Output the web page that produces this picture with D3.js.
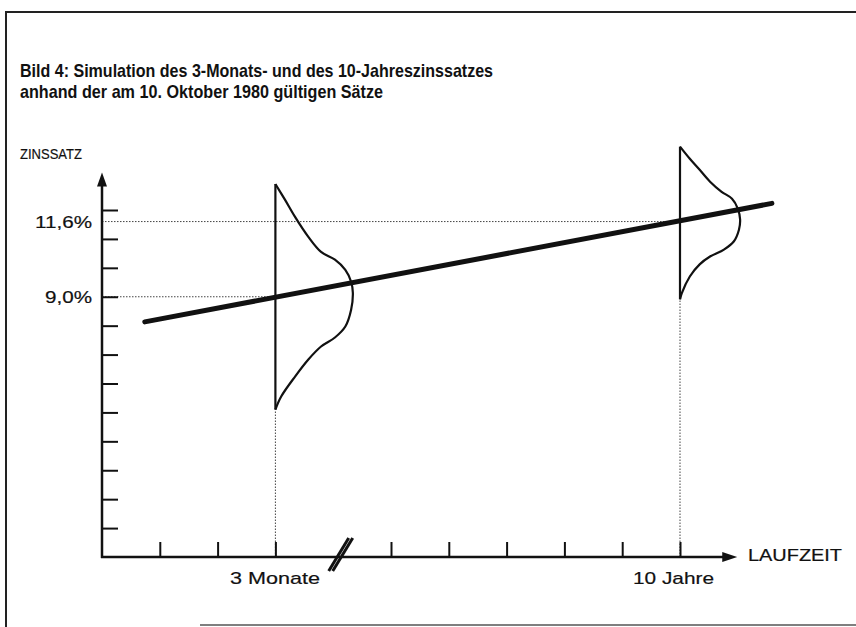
<!DOCTYPE html>
<html>
<head>
<meta charset="utf-8">
<script src="https://cdn.jsdelivr.net/npm/d3@7"></script>
<style>
  html, body { margin: 0; padding: 0; background: #fff; }
  svg { display: block; }
  text { font-family: "Liberation Sans", Arial, Helvetica, sans-serif; fill: #111; }
  .lab { stroke: #111; stroke-width: 0.2; }
</style>
</head>
<body>
<div id="chart"></div>
<script>
// --- data ---
var titleLines = ["Bild 4: Simulation des 3-Monats- und des 10-Jahreszinssatzes",
                  "anhand der am 10. Oktober 1980 gültigen Sätze"];
var yTicks = [1, 2, 3, 4, 5, 6, 7, 8, 9, 10, 11, 12];
var xTicks = [1, 2, 3, 5, 6, 7, 8, 9, 10];
var xBreak = 4.13;
var rateLabels = [{v: 11.6, t: "11,6%"}, {v: 9.0, t: "9,0%"}];
var maturities = [{v: 3, t: "3 Monate", rate: 9.0}, {v: 10, t: "10 Jahre", rate: 11.6}];
// zinskurve (laufzeit, zinssatz)
var yieldLine = [[0.74, 8.13], [11.59, 12.23]];
// verteilungen: [abweichung in %, breite in laufzeit-einheiten]
var dist3M = [[3.9, 0], [3.34, 0.17], [2.76, 0.34], [2.07, 0.57], [1.55, 0.79], [1.28, 1.03],
              [0.93, 1.21], [0.52, 1.31], [0.14, 1.34], [-0.45, 1.31], [-1.03, 1.21], [-1.41, 1.03],
              [-1.72, 0.79], [-2.17, 0.57], [-2.76, 0.34], [-3.45, 0.10], [-3.9, 0]];
var dist10J = [[2.59, 0], [2.17, 0.17], [1.79, 0.34], [1.38, 0.52], [1.03, 0.72], [0.79, 0.90],
               [0.45, 1.0], [0.07, 1.04], [-0.28, 1.02], [-0.69, 0.93], [-0.97, 0.76], [-1.21, 0.52],
               [-1.48, 0.34], [-1.90, 0.17], [-2.48, 0.03], [-2.69, 0]];

var W = 856, H = 627;
var svg = d3.select("#chart").append("svg").attr("width", W).attr("height", H);

var x = d3.scaleLinear().domain([0, 10]).range([102, 680]);
var y = d3.scaleLinear().domain([0, 12]).range([557, 210]);

// rahmen
svg.append("line").attr("x1", 5).attr("x2", W).attr("y1", 12).attr("y2", 12)
  .attr("stroke", "#222").attr("stroke-width", 2);
svg.append("line").attr("x1", 6).attr("x2", 6).attr("y1", 12).attr("y2", H)
  .attr("stroke", "#222").attr("stroke-width", 2);
svg.append("line").attr("x1", 200).attr("x2", W).attr("y1", 625).attr("y2", 625)
  .attr("stroke", "#555").attr("stroke-width", 1.5);

// titel
svg.selectAll(".title").data(titleLines).enter().append("text")
  .attr("x", 20).attr("y", (d, i) => 77 + i * 21)
  .attr("font-size", 19).attr("font-weight", "bold")
  .attr("textLength", (d, i) => i == 0 ? 473 : 363)
  .attr("lengthAdjust", "spacingAndGlyphs")
  .text(d => d);

// hilfslinien gepunktet
var dot = "1.5,1.5";
maturities.forEach(function(m) {
  svg.append("line").attr("x1", x(0)).attr("x2", x(m.v)).attr("y1", y(m.rate)).attr("y2", y(m.rate))
    .attr("stroke", "#444").attr("stroke-width", 1).attr("stroke-dasharray", dot);
});
var dists = [dist3M, dist10J];
maturities.forEach(function(m, i) {
  var lo = d3.min(dists[i], d => d[0]);
  svg.append("line").attr("x1", x(m.v)).attr("x2", x(m.v)).attr("y1", y(0)).attr("y2", y(m.rate + lo))
    .attr("stroke", "#444").attr("stroke-width", 1).attr("stroke-dasharray", dot);
});

// y-achse
var yAxis = d3.axisLeft(y).tickValues(yTicks).tickSize(-16).tickFormat("");
var gy = svg.append("g").attr("transform", "translate(" + x(0) + ",0)").call(yAxis);
gy.select(".domain").remove();
gy.selectAll(".tick line").attr("stroke", "#111").attr("stroke-width", 2);

// x-achse
var xAxis = d3.axisBottom(x).tickValues(xTicks).tickSize(-15).tickFormat("");
var gx = svg.append("g").attr("transform", "translate(0," + y(0) + ")").call(xAxis);
gx.select(".domain").remove();
gx.selectAll(".tick line").attr("stroke", "#111").attr("stroke-width", 2);

svg.append("line").attr("x1", x(0)).attr("x2", x(0)).attr("y1", y(0) + 1).attr("y2", y(13.0))
  .attr("stroke", "#111").attr("stroke-width", 2.5);
svg.append("line").attr("x1", x(0) - 1).attr("x2", x(10.75)).attr("y1", y(0)).attr("y2", y(0))
  .attr("stroke", "#111").attr("stroke-width", 2.5);
// pfeile
svg.append("path")
  .attr("d", "M" + x(0) + "," + y(13.3) + "L" + (x(0) - 5) + "," + (y(13.3) + 14) + "L" + (x(0) + 5) + "," + (y(13.3) + 14) + "Z")
  .attr("fill", "#111");
svg.append("path")
  .attr("d", "M" + x(10.99) + "," + y(0) + "L" + (x(10.99) - 15) + "," + (y(0) - 5) + "L" + (x(10.99) - 15) + "," + (y(0) + 5) + "Z")
  .attr("fill", "#111");

// achsenbruch
var bx = x(xBreak), by = y(0);
[-2, 2].forEach(function(o) {
  svg.append("line").attr("x1", bx - 10 + o).attr("y1", by + 14).attr("x2", bx + 10 + o).attr("y2", by - 19)
    .attr("stroke", "#111").attr("stroke-width", 3);
});

// achsentitel
svg.append("text").attr("class", "lab").attr("x", 20).attr("y", 159).attr("font-size", 15)
  .attr("textLength", 62).attr("lengthAdjust", "spacingAndGlyphs").text("ZINSSATZ");
svg.append("text").attr("class", "lab").attr("x", 748).attr("y", 561).attr("font-size", 16)
  .attr("textLength", 94).attr("lengthAdjust", "spacingAndGlyphs").text("LAUFZEIT");

// y-beschriftung
svg.selectAll(".ylab").data(rateLabels).enter().append("text").attr("class", "lab")
  .attr("x", 92).attr("y", d => y(d.v) + 6).attr("text-anchor", "end")
  .attr("font-size", 17)
  .attr("textLength", (d, i) => i == 0 ? 57 : 47).attr("lengthAdjust", "spacingAndGlyphs")
  .text(d => d.t);

// x-beschriftung
svg.selectAll(".xlab").data(maturities).enter().append("text").attr("class", "lab")
  .attr("x", (d, i) => i == 0 ? 230 : 633).attr("y", 584)
  .attr("font-size", 17)
  .attr("textLength", (d, i) => i == 0 ? 90 : 81).attr("lengthAdjust", "spacingAndGlyphs")
  .text(d => d.t);

// zinskurve
svg.append("path").datum(yieldLine)
  .attr("d", d3.line().x(d => x(d[0])).y(d => y(d[1])))
  .attr("stroke", "#111").attr("stroke-width", 5).attr("fill", "none").attr("stroke-linecap", "round");

// verteilungen
maturities.forEach(function(m, i) {
  var pts = dists[i];
  var line = d3.line().curve(d3.curveCatmullRom)
    .x(d => x(m.v + d[1])).y(d => y(m.rate + d[0]));
  svg.append("path").datum(pts).attr("d", line)
    .attr("fill", "none").attr("stroke", "#111").attr("stroke-width", 2.2);
  svg.append("line").attr("x1", x(m.v)).attr("x2", x(m.v))
    .attr("y1", y(m.rate + pts[0][0])).attr("y2", y(m.rate + pts[pts.length - 1][0]))
    .attr("stroke", "#111").attr("stroke-width", 2.2);
});
</script>
</body>
</html>
